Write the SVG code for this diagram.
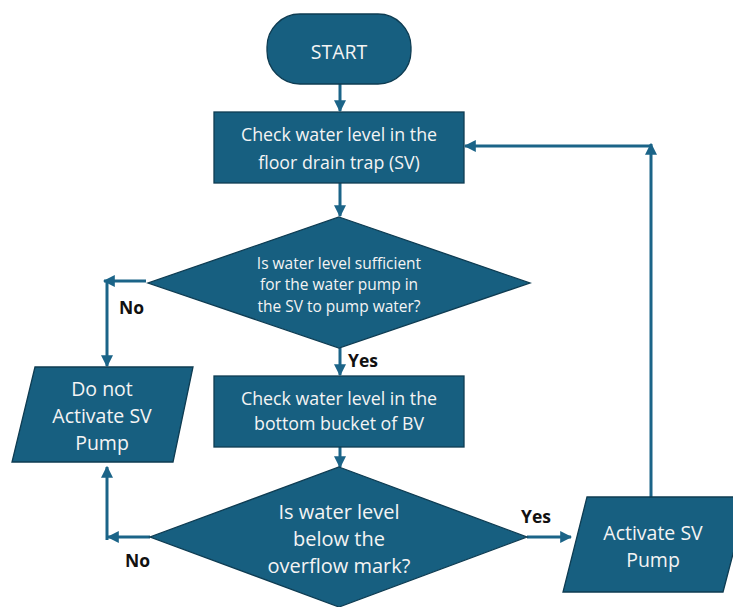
<svg xmlns="http://www.w3.org/2000/svg" width="733" height="607" viewBox="0 0 733 607">
<style>
.n{fill:#175f80;stroke:#0e3c52;stroke-width:1.3}
.t{fill:#f4f4f4;font-family:"Open Sans","Liberation Sans",Arial,sans-serif;text-anchor:middle}
.c{fill:none;stroke:#1b6488;stroke-width:3}
.l{fill:#111;font-family:"Open Sans","Liberation Sans",Arial,sans-serif;font-weight:bold;font-size:17.5px}
</style>
<defs>
<marker id="ah" viewBox="0 0 10 10" refX="9" refY="5" markerWidth="4" markerHeight="4" orient="auto" markerUnits="strokeWidth">
<path d="M0,0 L10,5 L0,10 z" fill="#1b6488"/>
</marker>
</defs>
<rect width="733" height="607" fill="#fff"/>
<g id="connectors">
<line class="c" x1="340" y1="84" x2="340" y2="111" marker-end="url(#ah)"/>
<line class="c" x1="340" y1="183" x2="340" y2="216" marker-end="url(#ah)"/>
<line class="c" x1="146" y1="281" x2="104" y2="281" marker-end="url(#ah)"/>
<line class="c" x1="107" y1="281" x2="107" y2="366" marker-end="url(#ah)"/>
<line class="c" x1="340" y1="348" x2="340" y2="375" marker-end="url(#ah)"/>
<line class="c" x1="340" y1="447" x2="340" y2="467" marker-end="url(#ah)"/>
<line class="c" x1="150" y1="537" x2="108" y2="537" marker-end="url(#ah)"/>
<line class="c" x1="107" y1="540" x2="107" y2="467" marker-end="url(#ah)"/>
<line class="c" x1="527" y1="537" x2="571" y2="537" marker-end="url(#ah)"/>
<line class="c" x1="651" y1="497" x2="651" y2="144" marker-end="url(#ah)"/>
<line class="c" x1="652" y1="146" x2="465" y2="146" marker-end="url(#ah)"/>
</g>
<g id="start">
<rect class="n" x="267" y="14" width="144" height="70" rx="33" ry="33"/>
<text class="t" x="339" y="59" font-size="19.5">START</text>
</g>
<g id="check-sv">
<rect class="n" x="214" y="112" width="250" height="71"/>
<text class="t" font-size="17.8"><tspan x="339" y="141">Check water level in the</tspan><tspan x="339" y="169">floor drain trap (SV)</tspan></text>
</g>
<g id="decision-sufficient">
<polygon class="n" points="339,217 530,283 339,348 148,283"/>
<text class="t" font-size="15.5"><tspan x="339" y="269">Is water level sufficient</tspan><tspan x="339" y="290">for the water pump in</tspan><tspan x="339" y="312">the SV to pump water?</tspan></text>
</g>
<g id="do-not-activate">
<polygon class="n" points="35,367 193,367 173,462 12,462"/>
<text class="t" font-size="19.5"><tspan x="102" y="396">Do not</tspan><tspan x="102" y="423">Activate SV</tspan><tspan x="102" y="450">Pump</tspan></text>
</g>
<g id="check-bv">
<rect class="n" x="214" y="376" width="250" height="71"/>
<text class="t" font-size="17.8"><tspan x="339" y="405">Check water level in the</tspan><tspan x="339" y="430">bottom bucket of BV</tspan></text>
</g>
<g id="decision-overflow">
<polygon class="n" points="339,467 527,537 339,607 150,537"/>
<text class="t" font-size="20"><tspan x="339" y="519">Is water level</tspan><tspan x="339" y="546">below the</tspan><tspan x="339" y="573">overflow mark?</tspan></text>
</g>
<g id="activate">
<polygon class="n" points="587,497 748,497 723,592 563,592"/>
<text class="t" font-size="19.5"><tspan x="653" y="540">Activate SV</tspan><tspan x="653" y="567">Pump</tspan></text>
</g>
<g id="labels">
<text class="l" x="119" y="314">No</text>
<text class="l" x="348" y="367">Yes</text>
<text class="l" x="125" y="567">No</text>
<text class="l" x="521" y="523">Yes</text>
</g>
</svg>
